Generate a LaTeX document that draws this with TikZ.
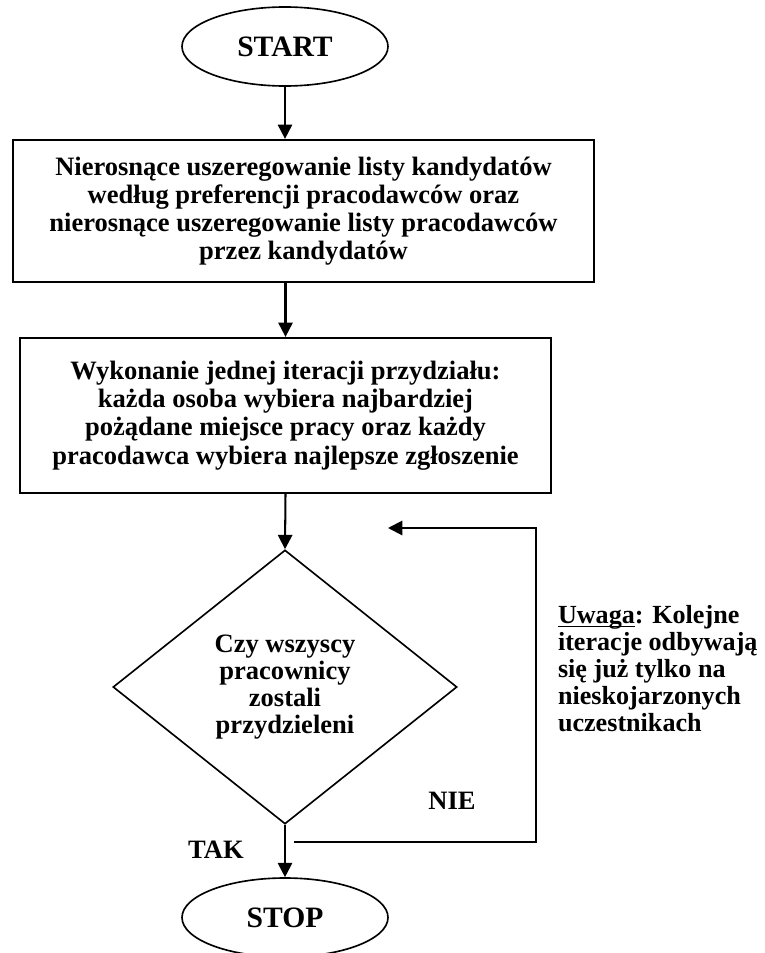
\documentclass[tikz,border=0pt]{standalone}
\usepackage{fontspec}
\setmainfont{Liberation Serif}
\usetikzlibrary{shapes.geometric,arrows.meta}

\newcommand{\pxu}{0.49pt}
\newcommand{\ulword}[1]{\underline{\smash{#1}}}

\begin{document}
\begin{tikzpicture}[x=\pxu,y=-\pxu,line width=1pt,
  every node/.style={font=\bfseries\fontsize{13}{13.8}\selectfont,inner sep=0pt},
  term/.style={draw,ellipse,line width=0.8pt,minimum width=206*\pxu,minimum height=79*\pxu,font=\bfseries\fontsize{14.5}{16}\selectfont},
  proc/.style={draw,rectangle,align=center,line width=1.1pt},
  dec/.style={draw,diamond,align=center,line width=0.8pt,aspect=1.255,minimum width=344*\pxu,minimum height=274*\pxu,font=\bfseries\fontsize{13}{13.2}\selectfont},
  flow/.style={-{Triangle[length=7pt,width=7pt]}}]
\useasboundingbox (0,0) rectangle (765,953);
\node[term] (start) at (285,46.5) {START};
\node[proc,minimum width=581*\pxu,minimum height=142*\pxu] (prep) at (303.5,211)
  {Nierosnące uszeregowanie listy kandydatów\\
   według preferencji pracodawców oraz\\
   nierosnące uszeregowanie listy pracodawców\\
   przez kandydatów};
\node[proc,minimum width=531*\pxu,minimum height=155*\pxu] (iter) at (285.5,415.5)
  {Wykonanie jednej iteracji przydziału:\\
   każda osoba wybiera najbardziej\\
   pożądane miejsce pracy oraz każdy\\
   pracodawca wybiera najlepsze zgłoszenie};
\node[dec] (check) at (285,687) {Czy wszyscy\\ pracownicy\\ zostali\\ przydzieleni};
\node[term] (stop) at (285,917.5) {STOP};
\node (tak) at (216,850) {TAK};
\node (nie) at (452,801) {NIE};
\node[anchor=north west,align=left,font=\bfseries\fontsize{12.8}{13.3}\selectfont] (note) at (557,604)
  {\ulword{Uwaga}: Kolejne\\ iteracje odbywają\\ się już tylko na\\ nieskojarzonych\\ uczestnikach};
\coordinate (loopin) at (294,842);
\coordinate (loopout) at (388,528);
\draw[flow] (start.south) -- (start.south |- prep.north);
\draw[flow] (iter.north |- prep.south) -- (iter.north);
\draw[flow] (iter.south) -- (check.north);
\draw[flow] (check.south) -- (stop.north);
\draw[flow] (loopin) -- ++(242,0) |- (loopout);
\end{tikzpicture}
\end{document}
